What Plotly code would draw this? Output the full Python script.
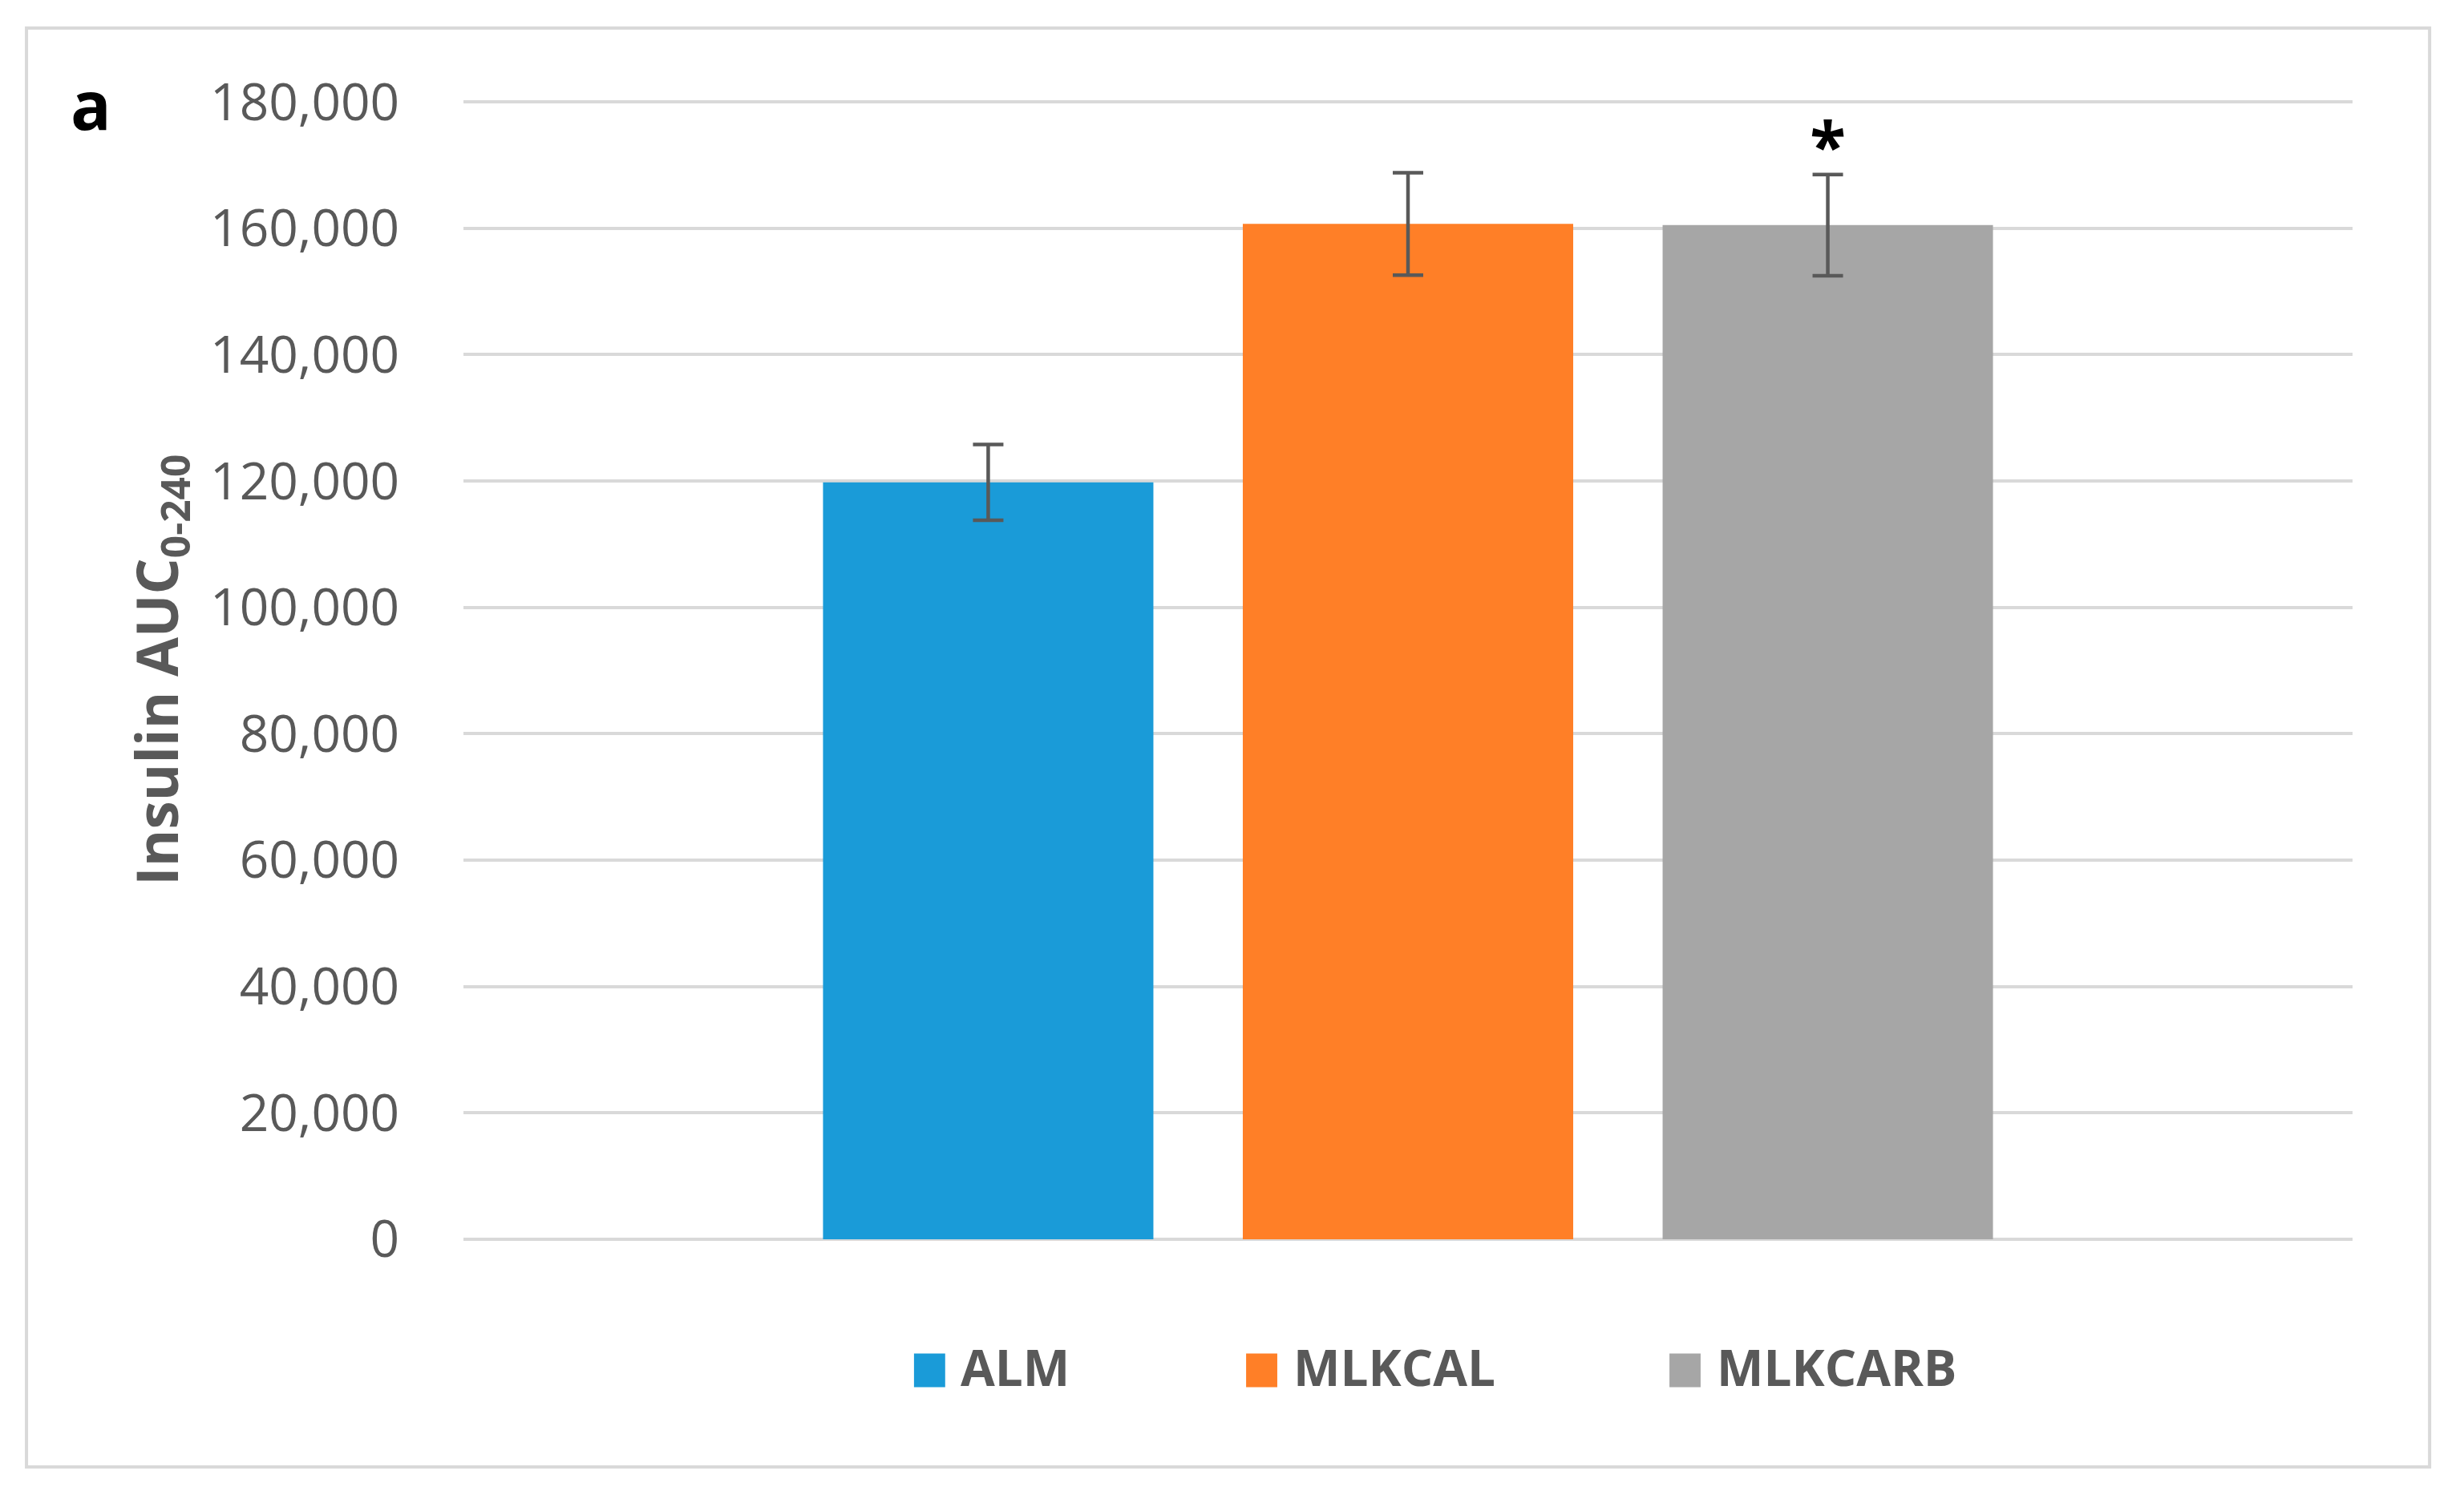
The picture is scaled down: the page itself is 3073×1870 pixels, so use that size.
import plotly.graph_objects as go

groups = ["ALM", "MLKCAL", "MLKCARB"]
auc_means = [119800, 160700, 160500]
auc_sem = [6000, 8100, 8000]
colors = ["#1A9BD8", "#FF7F27", "#A6A6A6"]

sig_group = ["MLKCARB"]
sig_y = [171800]

y_ticks = list(range(0, 180001, 20000))
y_ticklabels = [f"{v:,}" for v in y_ticks]

grey_text = "#595959"
grid_col = "#D9D9D9"

fig = go.Figure()

for i, (name, m, e, c) in enumerate(zip(groups, auc_means, auc_sem, colors)):
    fig.add_trace(go.Bar(
        x=[i],
        y=[m],
        name=name,
        width=0.787,
        marker=dict(color=c, line=dict(width=0)),
        error_y=dict(type="data", array=[e], visible=True,
                     color=grey_text, thickness=4.5, width=19),
        showlegend=False,
    ))

# significance marker
fig.add_trace(go.Scatter(
    x=[groups.index(g) for g in sig_group],
    y=sig_y,
    mode="text",
    text=["*"] * len(sig_group),
    textposition="middle center",
    textfont=dict(family="Open Sans", size=82, color="black", weight="bold"),
    showlegend=False,
))

# page body adds ~8px, so margins are pulled in by that much
fig.update_layout(
    width=3073,
    height=1870,
    margin=dict(l=570, r=147, t=116, b=332),
    plot_bgcolor="white",
    paper_bgcolor="white",
    font=dict(family="Open Sans", color=grey_text),
    xaxis=dict(range=[-1.25, 3.25], showticklabels=False, showgrid=False,
               zeroline=False, showline=False),
    yaxis=dict(range=[0, 180400], tickvals=y_ticks, ticktext=y_ticklabels,
               tickfont=dict(family="Open Sans", size=64, color=grey_text),
               showgrid=True, gridcolor=grid_col, gridwidth=3.5,
               zeroline=True, zerolinecolor=grid_col, zerolinewidth=3.5,
               showline=False, ticks="outside", ticklen=66,
               tickcolor="rgba(0,0,0,0)"),
)

# y-axis title
fig.add_annotation(
    xref="paper", yref="paper", x=-0.161, y=0.4993,
    text="Insulin AUC<sub>0-240</sub>", textangle=-90, showarrow=False,
    font=dict(family="Open Sans", size=71, color=grey_text, weight="bold"),
    xanchor="center", yanchor="middle",
)

# panel label
fig.add_annotation(
    xref="paper", yref="paper", x=-0.197, y=0.996,
    text="a", showarrow=False,
    font=dict(family="Open Sans", size=84, color="black", weight="bold"),
    xanchor="center", yanchor="middle",
)

# manual legend (large square keys)
leg_x = [0.2385, 0.4143, 0.6384]
sq_w = 0.0165
sq_h = 0.0148
leg_y = -0.1150
for name, c, lx in zip(groups, colors, leg_x):
    fig.add_shape(type="rect", xref="paper", yref="paper",
                  x0=lx, x1=lx + sq_w, y0=leg_y - sq_h, y1=leg_y + sq_h,
                  fillcolor=c, line=dict(width=0))
    fig.add_annotation(
        xref="paper", yref="paper", x=lx + sq_w + 0.0075, y=leg_y + 0.003,
        text=name, showarrow=False, xanchor="left", yanchor="middle",
        font=dict(family="Open Sans", size=62, color=grey_text, weight="bold"),
    )

# chart frame
fig.add_shape(type="rect", xref="paper", yref="paper",
              x0=-0.2313, x1=1.0408, y0=-0.1997, y1=1.0626,
              line=dict(color=grid_col, width=4), fillcolor="rgba(0,0,0,0)",
              layer="below")

fig.write_html("out.html")
